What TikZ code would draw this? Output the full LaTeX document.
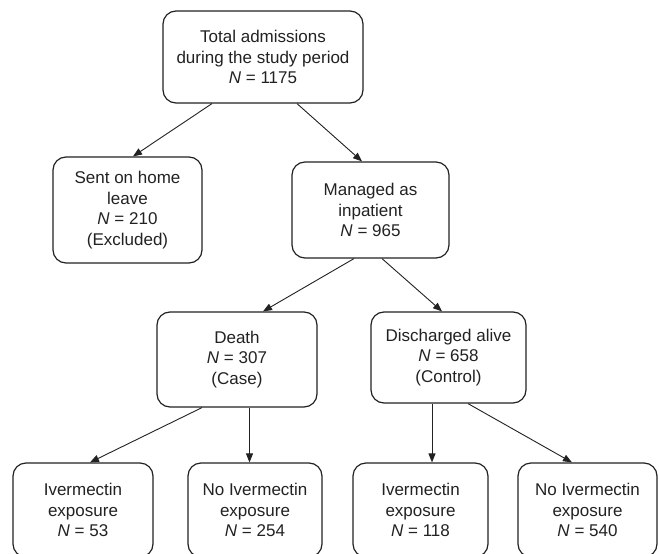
\documentclass[tikz,border=0pt]{standalone}
\usepackage{fontspec}
\setmainfont{Liberation Sans}
\usetikzlibrary{arrows.meta}
\definecolor{ink}{HTML}{222222}
\tikzset{
  box/.style={draw=ink, line width=1.2pt, rounded corners=13pt, align=center, inner sep=0pt,
    font=\fontsize{17}{20.5}\selectfont, text=ink},
  conn/.style={draw=ink, line width=0.9pt, -{Triangle[length=9pt,width=7pt]}}
}
\newcommand{\NN}{\textit{N}}
\begin{document}
\begin{tikzpicture}[x=1pt,y=-1pt]
\clip (0,0) rectangle (659,554);
\fill[white] (0,0) rectangle (659,554);
\node[box, minimum width=200pt, minimum height=92pt] (top) at (263,57)
  {Total admissions\\during the study period\\\NN{} = 1175};
\node[box, minimum width=149pt, minimum height=106pt] (sent) at (127.5,210)
  {Sent on home\\leave\\\NN{} = 210\\(Excluded)};
\node[box, minimum width=157pt, minimum height=96pt] (man) at (370.5,210)
  {Managed as\\inpatient\\\NN{} = 965};
\node[box, minimum width=160pt, minimum height=95pt] (death) at (237,359.5)
  {Death\\\NN{} = 307\\(Case)};
\node[box, minimum width=155pt, minimum height=91pt] (dis) at (448.5,357.5)
  {Discharged alive\\\NN{} = 658\\(Control)};
\node[box, minimum width=140pt, minimum height=94pt] (b1) at (83,510)
  {Ivermectin\\exposure\\\NN{} = 53};
\node[box, minimum width=134pt, minimum height=94pt] (b2) at (255,510)
  {No Ivermectin\\exposure\\\NN{} = 254};
\node[box, minimum width=135pt, minimum height=94pt] (b3) at (420.5,510)
  {Ivermectin\\exposure\\\NN{} = 118};
\node[box, minimum width=139pt, minimum height=94pt] (b4) at (587.5,510)
  {No Ivermectin\\exposure\\\NN{} = 540};
\draw[conn] ([xshift=-51pt]top.south) -- ([xshift=5.5pt]sent.north);
\draw[conn] ([xshift=34pt]top.south) -- ([xshift=-8.5pt]man.north);
\draw[conn] ([xshift=-16.5pt]man.south) -- ([xshift=26pt]death.north);
\draw[conn] ([xshift=11.5pt]man.south) -- ([xshift=-6.5pt]dis.north);
\draw[conn] ([xshift=-35pt]death.south) -- ([xshift=7pt]b1.north);
\draw[conn] ([xshift=12.5pt]death.south) -- ([xshift=-5.5pt]b2.north);
\draw[conn] ([xshift=-16.5pt]dis.south) -- ([xshift=11.5pt]b3.north);
\draw[conn] ([xshift=19.5pt]dis.south) -- ([xshift=-15.5pt]b4.north);
\end{tikzpicture}
\end{document}
